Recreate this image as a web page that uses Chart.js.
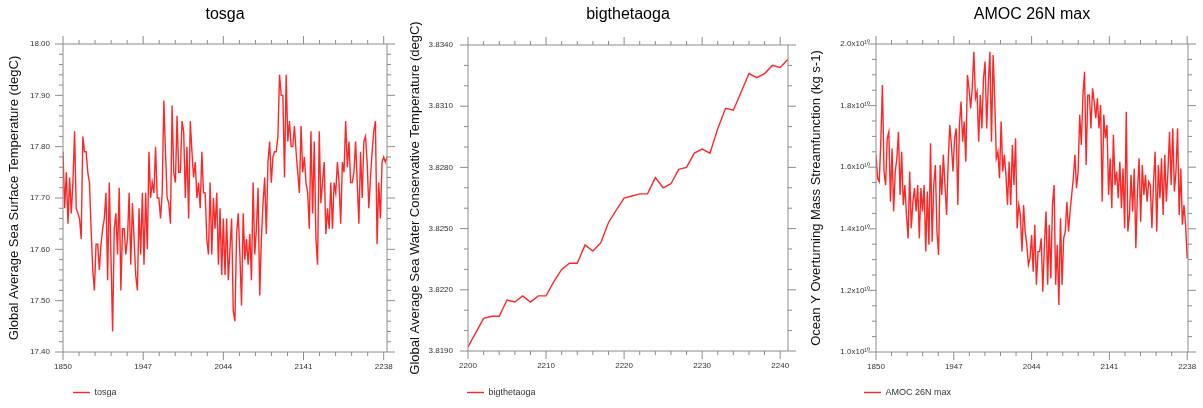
<!DOCTYPE html>
<html>
<head>
<meta charset="utf-8">
<script src="https://cdn.jsdelivr.net/npm/chart.js@4.4.1/dist/chart.umd.min.js"></script>
<style>
  body { margin: 0; background: #fff; }
  #wrap { position: relative; width: 1203px; height: 408px; }
  .panel { position: absolute; top: 0; width: 401px; height: 408px; }
</style>
</head>
<body>
<div id="wrap">
  <div class="panel" style="left:0"><canvas id="c1" width="401" height="408"></canvas></div>
  <div class="panel" style="left:401px"><canvas id="c2" width="401" height="408"></canvas></div>
  <div class="panel" style="left:802px"><canvas id="c3" width="401" height="408"></canvas></div>
</div>
<script>
// tosga, one value every 2 years from 1850 (degC)
const tosgaValues = [
  17.79, 17.68, 17.75, 17.65, 17.74, 17.67, 17.73, 17.83, 17.68, 17.67,
  17.66, 17.62, 17.82, 17.79, 17.79, 17.75, 17.73, 17.64, 17.56, 17.52,
  17.61, 17.61, 17.56, 17.61, 17.64, 17.66, 17.71, 17.54, 17.73, 17.59,
  17.44, 17.64, 17.67, 17.59, 17.72, 17.52, 17.64, 17.64, 17.59, 17.62,
  17.71, 17.57, 17.69, 17.62, 17.55, 17.52, 17.68, 17.59, 17.71, 17.57,
  17.71, 17.60, 17.79, 17.70, 17.73, 17.71, 17.80, 17.70, 17.70, 17.66,
  17.71, 17.89, 17.79, 17.70, 17.69, 17.65, 17.88, 17.75, 17.73, 17.86,
  17.75, 17.75, 17.85, 17.83, 17.70, 17.80, 17.66, 17.85, 17.79, 17.74,
  17.77, 17.70, 17.73, 17.68, 17.79, 17.71, 17.71, 17.62, 17.59, 17.73,
  17.59, 17.70, 17.64, 17.71, 17.57, 17.68, 17.55, 17.66, 17.55, 17.66,
  17.54, 17.60, 17.66, 17.48, 17.46, 17.63, 17.67, 17.59, 17.49, 17.67,
  17.58, 17.62, 17.57, 17.63, 17.54, 17.73, 17.59, 17.64, 17.72, 17.51,
  17.62, 17.69, 17.74, 17.63, 17.77, 17.81, 17.73, 17.78, 17.79, 17.79,
  17.82, 17.94, 17.90, 17.90, 17.74, 17.94, 17.81, 17.85, 17.80, 17.80,
  17.84, 17.79, 17.75, 17.71, 17.84, 17.75, 17.78, 17.73, 17.71, 17.64,
  17.83, 17.67, 17.81, 17.62, 17.57, 17.83, 17.69, 17.73, 17.77, 17.63,
  17.68, 17.64, 17.73, 17.64, 17.73, 17.71, 17.77, 17.73, 17.65, 17.77,
  17.75, 17.85, 17.76, 17.81, 17.73, 17.73, 17.75, 17.81, 17.73, 17.65,
  17.79, 17.70, 17.81, 17.82, 17.77, 17.68, 17.74, 17.79, 17.83, 17.85,
  17.61, 17.73, 17.66, 17.77, 17.78, 17.77, 17.78
];

// bigthetaoga, yearly 2200-2241 (degC)
const thetaValues = [
  3.8192, 3.8199, 3.8206, 3.8207, 3.8207, 3.8215, 3.8214, 3.8217, 3.8214, 3.8217,
  3.8217, 3.8224, 3.8230, 3.8233, 3.8233, 3.8242, 3.8239, 3.8243, 3.8253, 3.8259,
  3.8265, 3.8266, 3.8267, 3.8267, 3.8275, 3.8270, 3.8272, 3.8279, 3.8280, 3.8287,
  3.8289, 3.8287, 3.8299, 3.8309, 3.8308, 3.8317, 3.8326, 3.8324, 3.8326, 3.8330,
  3.8329, 3.8333
];

// AMOC 26N max, one value every 2 years from 1850 (units of 1e10 kg s-1)
const amocValues = [
  1.640, 1.564, 1.553, 1.683, 1.867, 1.586, 1.542, 1.694, 1.715, 1.488,
  1.661, 1.456, 1.586, 1.629, 1.715, 1.510, 1.650, 1.477, 1.542, 1.445,
  1.369, 1.586, 1.402, 1.488, 1.532, 1.456, 1.542, 1.369, 1.532, 1.456,
  1.542, 1.326, 1.521, 1.348, 1.678, 1.358, 1.542, 1.607, 1.391, 1.315,
  1.607, 1.510, 1.640, 1.542, 1.445, 1.618, 1.737, 1.672, 1.586, 1.694,
  1.726, 1.477, 1.737, 1.813, 1.683, 1.748, 1.618, 1.899, 1.856, 1.791,
  1.856, 1.975, 1.824, 1.845, 1.683, 1.834, 1.726, 1.889, 1.943, 1.726,
  1.867, 1.975, 1.683, 1.964, 1.824, 1.629, 1.650, 1.564, 1.748, 1.586,
  1.640, 1.575, 1.477, 1.618, 1.477, 1.672, 1.542, 1.694, 1.402, 1.477,
  1.445, 1.326, 1.477, 1.391, 1.348, 1.283, 1.304, 1.380, 1.261, 1.413,
  1.218, 1.326, 1.326, 1.369, 1.196, 1.348, 1.456, 1.218, 1.413, 1.239,
  1.477, 1.542, 1.218, 1.348, 1.153, 1.434, 1.218, 1.369, 1.391, 1.488,
  1.391, 1.456, 1.510, 1.564, 1.640, 1.532, 1.586, 1.770, 1.672, 1.834,
  1.910, 1.607, 1.834, 1.834, 1.726, 1.856, 1.813, 1.759, 1.824, 1.726,
  1.802, 1.488, 1.770, 1.694, 1.737, 1.510, 1.629, 1.467, 1.705, 1.542,
  1.586, 1.499, 1.618, 1.467, 1.596, 1.402, 1.780, 1.391, 1.445, 1.575,
  1.456, 1.596, 1.337, 1.521, 1.629, 1.423, 1.607, 1.510, 1.575, 1.488,
  1.553, 1.542, 1.402, 1.553, 1.650, 1.391, 1.607, 1.499, 1.629, 1.445,
  1.640, 1.488, 1.586, 1.715, 1.542, 1.726, 1.521, 1.586, 1.726, 1.445,
  1.596, 1.413, 1.477, 1.413, 1.304
];

const tosgaYears = tosgaValues.map((_, i) => 1850 + 2 * i);
const thetaYears = thetaValues.map((_, i) => 2200 + i);
const amocYears = amocValues.map((_, i) => 1850 + 2 * i);

const longXTicks = [1850, 1947, 2044, 2141, 2238];
const thetaXTicks = [2200, 2210, 2220, 2230, 2240];
const tosgaYTicks = [17.4, 17.5, 17.6, 17.7, 17.8, 17.9, 18.0];
const thetaYTicks = [3.819, 3.822, 3.825, 3.828, 3.831, 3.834];
const amocYTicks = [1.0, 1.2, 1.4, 1.6, 1.8, 2.0];

const FONT = '"Liberation Sans", Arial, Helvetica, sans-serif';
const LINE = 'rgba(255,0,0,0.85)';
const AXIS = '#8c8c8c';
const TEXT = '#333';

// minor tick positions: split each major step into `sub` parts
function subTicks(major, sub, min, max) {
  const step = (major[1] - major[0]) / sub;
  const out = [];
  for (let v = major[0]; v >= min - 1e-9; v -= step) out.push(v);
  for (let v = major[0] + step; v <= max + 1e-9; v += step) out.push(v);
  return out;
}

// NCL style frame with outward ticks on all four sides
const frameTicks = {
  id: 'frameTicks',
  afterLayout(chart, args, o) {
    const a = chart.chartArea;
    chart.titleBlock.left = a.left;
    chart.titleBlock.right = a.right;
    chart.legend.left = o.legendX - chart.options.plugins.legend.labels.padding;
  },
  afterDraw(chart, args, o) {
    const {ctx, chartArea: a, scales: {x, y}} = chart;
    const isMajor = (v, list) => list.some(m => Math.abs(m - v) < 1e-7 * Math.max(1, Math.abs(m)));
    ctx.save();
    ctx.strokeStyle = AXIS;
    ctx.lineWidth = 1;
    ctx.beginPath();
    subTicks(o.xMajor, o.xSub, x.min, x.max).forEach(v => {
      const px = x.getPixelForValue(v);
      const len = isMajor(v, o.xMajor) ? 8 : 4;
      ctx.moveTo(px, a.bottom); ctx.lineTo(px, a.bottom + len);
      ctx.moveTo(px, a.top); ctx.lineTo(px, a.top - len);
    });
    subTicks(o.yMajor, o.ySub, y.min, y.max).forEach(v => {
      const py = y.getPixelForValue(v);
      const len = isMajor(v, o.yMajor) ? 8 : 4;
      ctx.moveTo(a.left, py); ctx.lineTo(a.left - len, py);
      ctx.moveTo(a.right, py); ctx.lineTo(a.right + len, py);
    });
    ctx.rect(a.left, a.top, a.right - a.left, a.bottom - a.top);
    ctx.stroke();
    ctx.restore();
  }
};

function panel(id, p) {
  new Chart(document.getElementById(id), {
    type: 'line',
    data: {
      datasets: [{
        label: p.label,
        data: p.xs.map((x, i) => ({x: x, y: p.ys[i]})),
        borderColor: LINE,
        backgroundColor: LINE,
        borderWidth: 1.4,
        pointRadius: 0,
        tension: 0,
        fill: false
      }]
    },
    options: {
      responsive: false,
      animation: false,
      layout: {padding: {left: 0, right: 401 - p.right, top: 0, bottom: 1}},
      plugins: {
        title: {
          display: true,
          text: p.label,
          color: '#000',
          font: {family: FONT, size: 16, weight: 'normal'},
          padding: {top: 5.4, bottom: p.top - 5.4 - 19.2}
        },
        legend: {
          position: 'bottom',
          align: 'start',
          labels: {
            usePointStyle: true,
            pointStyle: 'line',
            pointStyleWidth: 17,
            boxHeight: 9,
            padding: 6,
            color: TEXT,
            font: {family: FONT, size: 9}
          }
        },
        tooltip: {enabled: false},
        frameTicks: {
          xMajor: p.xTicks, xSub: p.xSub,
          yMajor: p.yTicks, ySub: p.ySub,
          legendX: p.legendX
        }
      },
      scales: {
        x: {
          type: 'linear',
          min: p.xMin,
          max: p.xMax,
          afterBuildTicks: s => { s.ticks = p.xTicks.map(v => ({value: v})); },
          afterFit: s => { s.height = 408 - 1 - 25 - p.bottom; s.paddingLeft = 0; s.paddingRight = 0; },
          grid: {display: false, drawTicks: false},
          border: {display: false},
          ticks: {padding: 10, color: TEXT, maxRotation: 0, font: {family: FONT, size: 8}, callback: v => String(v)}
        },
        y: {
          min: p.yTicks[0],
          max: p.yTicks[p.yTicks.length - 1],
          afterBuildTicks: s => { s.ticks = p.yTicks.map(v => ({value: v})); },
          afterFit: s => { s.width = p.left; s.paddingTop = 0; s.paddingBottom = 0; },
          grid: {display: false, drawTicks: false},
          border: {display: false},
          ticks: {padding: p.yPad, color: TEXT, font: {family: FONT, size: 8}, callback: p.yFmt},
          title: {
            display: true,
            text: p.yTitle,
            color: '#111',
            font: {family: FONT, size: 13},
            padding: {top: 7, bottom: 0}
          }
        }
      }
    },
    plugins: [frameTicks]
  });
}

panel('c1', {
  label: 'tosga', xs: tosgaYears, ys: tosgaValues,
  xMin: 1850, xMax: 2242, xTicks: longXTicks, xSub: 5,
  yTicks: tosgaYTicks, ySub: 5, yFmt: v => v.toFixed(2), yPad: 13,
  yTitle: 'Global Average Sea Surface Temperature (degC)',
  left: 63, right: 387, top: 44, bottom: 352, legendX: 73
});

panel('c2', {
  label: 'bigthetaoga', xs: thetaYears, ys: thetaValues,
  xMin: 2200, xMax: 2241, xTicks: thetaXTicks, xSub: 5,
  yTicks: thetaYTicks, ySub: 3, yFmt: v => v.toFixed(4), yPad: 15,
  yTitle: 'Global Average Sea Water Conservative Temperature (degC)',
  left: 67, right: 387, top: 45, bottom: 351, legendX: 66
});

panel('c3', {
  label: 'AMOC 26N max', xs: amocYears, ys: amocValues,
  xMin: 1850, xMax: 2239, xTicks: longXTicks, xSub: 5,
  yTicks: amocYTicks, ySub: 4, yFmt: v => v.toFixed(1) + 'x10\u00b9\u2070', yPad: 6,
  yTitle: 'Ocean Y Overturning Mass Streamfunction (kg s-1)',
  left: 74, right: 386, top: 44, bottom: 352, legendX: 62
});
</script>
</body>
</html>
